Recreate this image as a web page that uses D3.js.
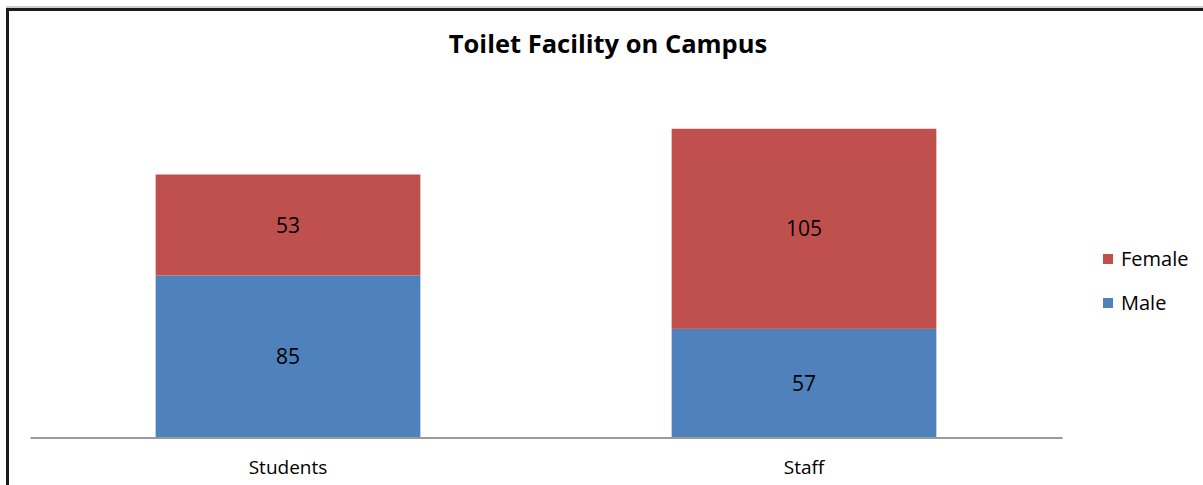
<!DOCTYPE html>
<html>
<head>
<meta charset="utf-8">
<script src="https://cdn.jsdelivr.net/npm/d3@7"></script>
<style>
html,body{margin:0;padding:0;background:#fff;}
svg{display:block;}
</style>
</head>
<body>
<svg id="chart" width="1203" height="485"></svg>
<script>
const title = "Toilet Facility on Campus";
const categories = ["Students", "Staff"];
const seriesNames = ["Male", "Female"];
const maleValues = [85, 57];
const femaleValues = [53, 105];
const colors = {Male: "#4f81bd", Female: "#c0504d"};
const legendOrder = ["Female", "Male"];

const rows = categories.map((c, i) => ({category: c, Male: maleValues[i], Female: femaleValues[i]}));
const stacked = d3.stack().keys(seriesNames)(rows);

const svg = d3.select("#chart");
const W = 1203, H = 485;
const fontFam = "'Open Sans', Lato, sans-serif";

// frame
svg.append("rect").attr("x", 0).attr("y", 0).attr("width", W).attr("height", H).attr("fill", "#fff");
svg.append("line").attr("x1", 6).attr("x2", W).attr("y1", 7).attr("y2", 7).attr("stroke", "#999").attr("stroke-width", 1);
svg.append("line").attr("x1", 6).attr("x2", W).attr("y1", 9.5).attr("y2", 9.5).attr("stroke", "#1a1a1a").attr("stroke-width", 3);
svg.append("line").attr("x1", 7.5).attr("x2", 7.5).attr("y1", 8).attr("y2", H).attr("stroke", "#1a1a1a").attr("stroke-width", 3);

const x = d3.scaleBand().domain(categories).range([30, 1062]).paddingInner(0.487).paddingOuter(0.2435);
const y = d3.scaleLinear().domain([0, 170]).range([437.5, 113.5]);

// bars
const g = svg.append("g");
stacked.forEach(layer => {
  g.selectAll(null).data(layer).enter().append("rect")
    .attr("x", d => x(d.data.category))
    .attr("width", x.bandwidth())
    .attr("y", d => y(d[1]))
    .attr("height", d => y(d[0]) - y(d[1]))
    .attr("fill", colors[layer.key]);
});

// axis line
const axis = d3.axisBottom(x).tickSize(0).tickPadding(23);
const ax = svg.append("g").attr("transform", "translate(0,437.5)").call(axis);
ax.select(".domain").attr("stroke", "#9a9a9a").attr("stroke-width", 2);
ax.selectAll("text").attr("font-family", fontFam).attr("font-size", 19).attr("fill", "#000");

// data labels
stacked.forEach(layer => {
  g.selectAll(null).data(layer).enter().append("text")
    .attr("x", d => x(d.data.category) + x.bandwidth() / 2)
    .attr("y", d => (y(d[0]) + y(d[1])) / 2)
    .attr("dy", "0.36em")
    .attr("text-anchor", "middle")
    .attr("font-family", fontFam)
    .attr("font-size", 21)
    .attr("fill", "#000")
    .text(d => d.data[layer.key]);
});

// title
svg.append("text").attr("x", 608).attr("y", 53).attr("text-anchor", "middle")
  .attr("font-family", fontFam).attr("font-weight", "bold").attr("font-size", 25.5)
  .attr("fill", "#000").text(title);

// legend
const lg = svg.append("g").attr("transform", "translate(1103,254)");
legendOrder.forEach((k, i) => {
  const row = lg.append("g").attr("transform", `translate(0,${i * 44})`);
  row.append("rect").attr("x", 0).attr("y", 0).attr("width", 10).attr("height", 10).attr("fill", colors[k]);
  row.append("text").attr("x", 18).attr("y", 5).attr("dy", "0.36em")
    .attr("font-family", fontFam).attr("font-size", 20).attr("fill", "#000").text(k);
});
</script>
</body>
</html>
